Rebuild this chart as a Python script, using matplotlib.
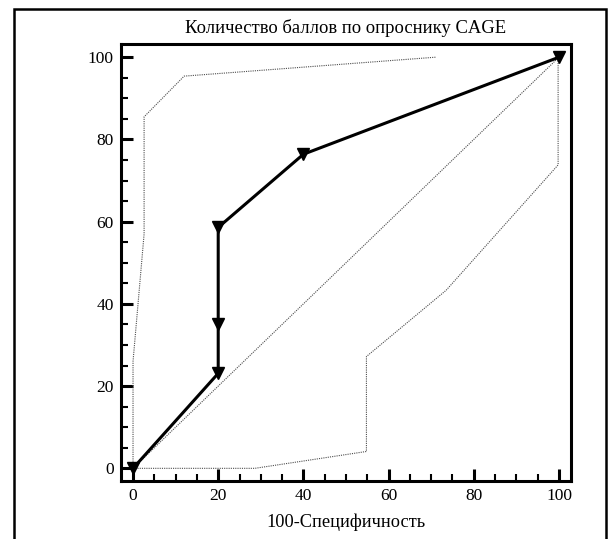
import matplotlib
matplotlib.use("Agg")
import matplotlib.pyplot as plt
from matplotlib.patches import Rectangle
from matplotlib.ticker import MultipleLocator

plt.rcParams['font.family'] = ['Liberation Serif', 'DejaVu Serif']

# ROC-кривая по опроснику CAGE
fpr = [0, 20, 20, 20, 40, 100]
tpr = [0, 23.1, 35.2, 58.6, 76.4, 100]

# границы 95% доверительного интервала
upper_x = [0, 0, 2.6, 2.6, 12, 71]
upper_y = [0, 26, 57, 85.5, 95.4, 100]
lower_x = [0, 28.6, 54.8, 54.8, 73.5, 99.8, 99.8]
lower_y = [0, 0, 4.1, 27.2, 43.3, 73.8, 100]

diag = [0, 100]

fig = plt.figure(figsize=(6.11, 5.39), dpi=100)
ax = fig.add_axes([0.1975, 0.1067, 0.7365, 0.8108])

dot = dict(color='0.3', lw=0.8, ls=(0, (1, 1)))
ax.plot(diag, diag, **dot)
ax.plot(upper_x, upper_y, **dot)
ax.plot(lower_x, lower_y, **dot)
ax.plot(fpr, tpr, color='black', lw=2.2, marker='v', markersize=8,
        markerfacecolor='black', markeredgecolor='black', clip_on=False, zorder=5)

ax.set_xlim(-2.9, 102.75)
ax.set_ylim(-3.2, 103.1)
ax.xaxis.set_major_locator(MultipleLocator(20))
ax.yaxis.set_major_locator(MultipleLocator(20))
ax.xaxis.set_minor_locator(MultipleLocator(5))
ax.yaxis.set_minor_locator(MultipleLocator(5))
ax.tick_params(which='major', direction='in', length=8.6, width=2.2,
               labelsize=12.5, pad=5, top=False, right=False)
ax.tick_params(which='minor', direction='in', length=5, width=1.5,
               top=False, right=False)
for s in ax.spines.values():
    s.set_linewidth(2.2)

fig.text(0.5658, 0.9382, 'Количество баллов по опроснику CAGE',
         ha='center', va='baseline', fontsize=13.4)
fig.text(0.5655, 0.0217, '100-Специфичность',
         ha='center', va='baseline', fontsize=13.2)

# рамка вокруг рисунка
frame = Rectangle((13.5 / 611, -0.1), (606 - 13.5) / 611, 1.1 - 8.5 / 539,
                  transform=fig.transFigure, fill=False, lw=1.8,
                  edgecolor='black', clip_on=False)
fig.patches.append(frame)

fig.savefig('out.png', dpi=100)
